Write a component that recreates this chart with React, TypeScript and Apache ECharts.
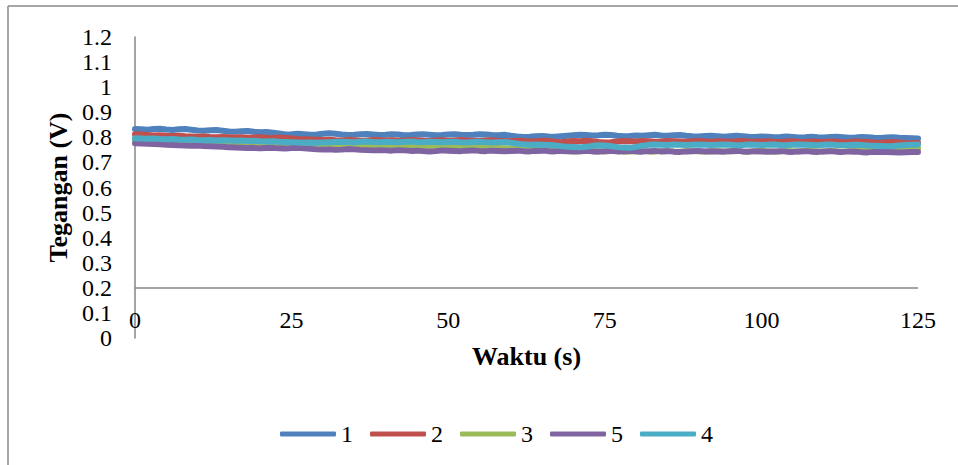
import React, { useEffect, useRef } from "react";
import * as echarts from "echarts";

const seriesNames = ["1", "2", "3", "5", "4"];
const seriesColors = ["#4F81BD", "#C0504D", "#9BBB59", "#8064A2", "#4BACC6"];
const timeStart = 0; // seconds, one sample per second
const xTicks = [0, 25, 50, 75, 100, 125];

const s1 = [
  0.833, 0.832, 0.830, 0.833, 0.834, 0.831, 0.829, 0.832, 0.833, 0.830,
  0.827, 0.826, 0.828, 0.829, 0.826, 0.823, 0.822, 0.824, 0.825, 0.822,
  0.820, 0.821, 0.818, 0.815, 0.811, 0.812, 0.814, 0.812, 0.810, 0.811,
  0.814, 0.816, 0.814, 0.811, 0.809, 0.810, 0.812, 0.813, 0.811, 0.809,
  0.810, 0.812, 0.811, 0.808, 0.809, 0.811, 0.812, 0.810, 0.808, 0.809,
  0.811, 0.812, 0.810, 0.809, 0.810, 0.812, 0.811, 0.809, 0.808, 0.810,
  0.806, 0.803, 0.801, 0.802, 0.804, 0.805, 0.803, 0.802, 0.804, 0.806,
  0.808, 0.810, 0.809, 0.807, 0.808, 0.810, 0.809, 0.806, 0.804, 0.805,
  0.807, 0.806, 0.808, 0.810, 0.807, 0.806, 0.808, 0.809, 0.806, 0.804,
  0.803, 0.805, 0.806, 0.804, 0.802, 0.804, 0.806, 0.804, 0.802, 0.801,
  0.803, 0.802, 0.800, 0.801, 0.803, 0.801, 0.799, 0.800, 0.802, 0.800,
  0.799, 0.801, 0.802, 0.800, 0.798, 0.799, 0.801, 0.800, 0.798, 0.797,
  0.799, 0.800, 0.798, 0.797, 0.796, 0.795,
];
const s2 = [
  0.812, 0.811, 0.809, 0.807, 0.808, 0.806, 0.805, 0.806, 0.804, 0.803,
  0.802, 0.803, 0.801, 0.800, 0.801, 0.800, 0.799, 0.800, 0.798, 0.799,
  0.800, 0.798, 0.797, 0.799, 0.797, 0.795, 0.793, 0.792, 0.791, 0.790,
  0.789, 0.790, 0.788, 0.787, 0.789, 0.788, 0.786, 0.787, 0.789, 0.788,
  0.787, 0.788, 0.786, 0.787, 0.789, 0.788, 0.786, 0.785, 0.787, 0.788,
  0.786, 0.787, 0.789, 0.787, 0.786, 0.785, 0.787, 0.788, 0.786, 0.785,
  0.784, 0.786, 0.785, 0.783, 0.784, 0.786, 0.785, 0.782, 0.780, 0.783,
  0.785, 0.784, 0.786, 0.784, 0.781, 0.779, 0.780, 0.783, 0.785, 0.784,
  0.783, 0.785, 0.784, 0.782, 0.783, 0.785, 0.784, 0.783, 0.782, 0.784,
  0.785, 0.783, 0.782, 0.784, 0.783, 0.782, 0.784, 0.785, 0.783, 0.782,
  0.783, 0.784, 0.782, 0.781, 0.783, 0.784, 0.782, 0.781, 0.783, 0.782,
  0.781, 0.783, 0.782, 0.780, 0.781, 0.783, 0.782, 0.781, 0.779, 0.778,
  0.780, 0.781, 0.779, 0.777, 0.776, 0.778,
];
const s3 = [
  0.790, 0.789, 0.787, 0.786, 0.785, 0.784, 0.783, 0.782, 0.783, 0.781,
  0.780, 0.781, 0.779, 0.778, 0.779, 0.777, 0.776, 0.777, 0.775, 0.776,
  0.774, 0.773, 0.772, 0.771, 0.770, 0.769, 0.768, 0.769, 0.768, 0.767,
  0.767, 0.766, 0.765, 0.766, 0.764, 0.763, 0.764, 0.763, 0.762, 0.763,
  0.762, 0.761, 0.762, 0.763, 0.761, 0.760, 0.762, 0.761, 0.760, 0.759,
  0.761, 0.760, 0.758, 0.759, 0.760, 0.761, 0.759, 0.758, 0.757, 0.756,
  0.755, 0.754, 0.752, 0.751, 0.750, 0.749, 0.750, 0.748, 0.747, 0.746,
  0.745, 0.744, 0.746, 0.747, 0.745, 0.744, 0.746, 0.745, 0.743, 0.744,
  0.745, 0.746, 0.744, 0.743, 0.745, 0.746, 0.744, 0.743, 0.745, 0.746,
  0.744, 0.743, 0.745, 0.746, 0.744, 0.745, 0.746, 0.744, 0.743, 0.745,
  0.746, 0.745, 0.743, 0.744, 0.746, 0.745, 0.744, 0.746, 0.747, 0.745,
  0.744, 0.746, 0.745, 0.743, 0.745, 0.747, 0.748, 0.749, 0.750, 0.749,
  0.750, 0.751, 0.752, 0.753, 0.754, 0.755,
];
const s5 = [
  0.776, 0.775, 0.774, 0.773, 0.772, 0.770, 0.769, 0.768, 0.767, 0.766,
  0.767, 0.765, 0.764, 0.763, 0.762, 0.760, 0.759, 0.758, 0.757, 0.758,
  0.756, 0.757, 0.758, 0.756, 0.755, 0.757, 0.758, 0.756, 0.754, 0.752,
  0.751, 0.752, 0.750, 0.751, 0.753, 0.752, 0.750, 0.749, 0.748, 0.749,
  0.748, 0.747, 0.749, 0.748, 0.746, 0.747, 0.745, 0.743, 0.745, 0.748,
  0.747, 0.746, 0.745, 0.747, 0.748, 0.746, 0.745, 0.747, 0.746, 0.745,
  0.746, 0.747, 0.745, 0.744, 0.746, 0.747, 0.745, 0.744, 0.746, 0.745,
  0.744, 0.745, 0.746, 0.744, 0.743, 0.745, 0.746, 0.744, 0.745, 0.746,
  0.744, 0.743, 0.745, 0.746, 0.744, 0.745, 0.743, 0.742, 0.744, 0.745,
  0.746, 0.744, 0.745, 0.744, 0.743, 0.745, 0.746, 0.744, 0.743, 0.745,
  0.744, 0.743, 0.744, 0.745, 0.743, 0.742, 0.744, 0.745, 0.743, 0.742,
  0.744, 0.745, 0.743, 0.742, 0.744, 0.743, 0.741, 0.740, 0.742, 0.743,
  0.742, 0.741, 0.740, 0.741, 0.742, 0.742,
];
const s4 = [
  0.796, 0.795, 0.794, 0.795, 0.793, 0.792, 0.793, 0.791, 0.790, 0.791,
  0.789, 0.788, 0.789, 0.787, 0.788, 0.787, 0.786, 0.787, 0.785, 0.786,
  0.784, 0.783, 0.784, 0.782, 0.781, 0.780, 0.779, 0.778, 0.779, 0.778,
  0.779, 0.780, 0.781, 0.782, 0.781, 0.780, 0.782, 0.783, 0.781, 0.780,
  0.782, 0.781, 0.780, 0.782, 0.783, 0.781, 0.780, 0.782, 0.781, 0.780,
  0.781, 0.782, 0.780, 0.779, 0.781, 0.782, 0.780, 0.779, 0.780, 0.781,
  0.778, 0.775, 0.772, 0.770, 0.771, 0.770, 0.769, 0.768, 0.765, 0.762,
  0.761, 0.760, 0.762, 0.766, 0.768, 0.767, 0.765, 0.761, 0.759, 0.758,
  0.762, 0.767, 0.770, 0.771, 0.770, 0.769, 0.771, 0.770, 0.769, 0.770,
  0.771, 0.770, 0.769, 0.770, 0.771, 0.770, 0.768, 0.769, 0.771, 0.770,
  0.769, 0.770, 0.771, 0.769, 0.768, 0.770, 0.771, 0.770, 0.769, 0.768,
  0.770, 0.771, 0.769, 0.768, 0.769, 0.770, 0.769, 0.767, 0.766, 0.765,
  0.764, 0.765, 0.767, 0.769, 0.770, 0.771,
];
const seriesValues = [s1, s2, s3, s5, s4];

const FONT = "'Liberation Serif', 'Times New Roman', serif";

export default function App() {
  const ref = useRef<HTMLDivElement>(null);
  useEffect(() => {
    if (!ref.current) return;
    const chart = echarts.init(ref.current, undefined, { renderer: "svg" });
    const series: any[] = seriesNames.map((name, i) => ({
      name,
      type: "line",
      showSymbol: false,
      symbol: "none",
      smooth: false,
      lineStyle: { color: seriesColors[i], width: 6, cap: "round", join: "round" },
      itemStyle: { color: seriesColors[i] },
      data: seriesValues[i].map((v, k) => [timeStart + k, v]),
      z: 2 + i,
    }));
    series[0].markLine = {
      silent: true,
      symbol: "none",
      label: { show: false },
      lineStyle: { color: "#868686", width: 1.5, type: "solid" },
      data: [{ yAxis: 0.2 }],
    };
    chart.setOption({
      animation: false,
      backgroundColor: "#ffffff",
      textStyle: { fontFamily: FONT },
      grid: { left: 135, right: 40, top: 37, bottom: 127, containLabel: false },
      xAxis: {
        type: "value",
        min: xTicks[0],
        max: xTicks[xTicks.length - 1],
        interval: 25,
        offset: -38,
        axisLine: { show: false },
        axisTick: { show: false },
        splitLine: { show: false },
        axisLabel: { color: "#000", fontSize: 24, fontFamily: FONT, margin: 8 },
        name: "Waktu (s)",
        nameLocation: "middle",
        nameGap: 43,
        nameTextStyle: { color: "#000", fontSize: 26, fontWeight: "bold", fontFamily: FONT },
      },
      yAxis: {
        type: "value",
        min: 0,
        max: 1.2,
        interval: 0.1,
        axisLine: { show: true, lineStyle: { color: "#868686", width: 1.5 } },
        axisTick: { show: false },
        splitLine: { show: false },
        axisLabel: { color: "#000", fontSize: 24, fontFamily: FONT, margin: 23 },
        name: "Tegangan (V)",
        nameLocation: "middle",
        nameGap: 64,
        nameTextStyle: { color: "#000", fontSize: 26, fontWeight: "bold", fontFamily: FONT },
      },
      legend: {
        left: 275,
        top: 417,
        itemGap: 17,
        itemWidth: 56,
        itemHeight: 5,
        icon: "roundRect",
        data: seriesNames,
        textStyle: { color: "#000", fontSize: 24, fontFamily: FONT, padding: [0, 0, 0, 0] },
      },
      graphic: [
        { type: "line", shape: { x1: 8, y1: 6, x2: 958, y2: 6 }, style: { stroke: "#8a8a8a", lineWidth: 1.5 } },
        { type: "line", shape: { x1: 8, y1: 6, x2: 8, y2: 465 }, style: { stroke: "#8a8a8a", lineWidth: 1.5 } },
      ],
      series,
    });
    return () => chart.dispose();
  }, []);
  return (
    <div
      ref={ref}
      style={{ position: "absolute", left: 0, top: 0, width: 958, height: 465 }}
    />
  );
}
